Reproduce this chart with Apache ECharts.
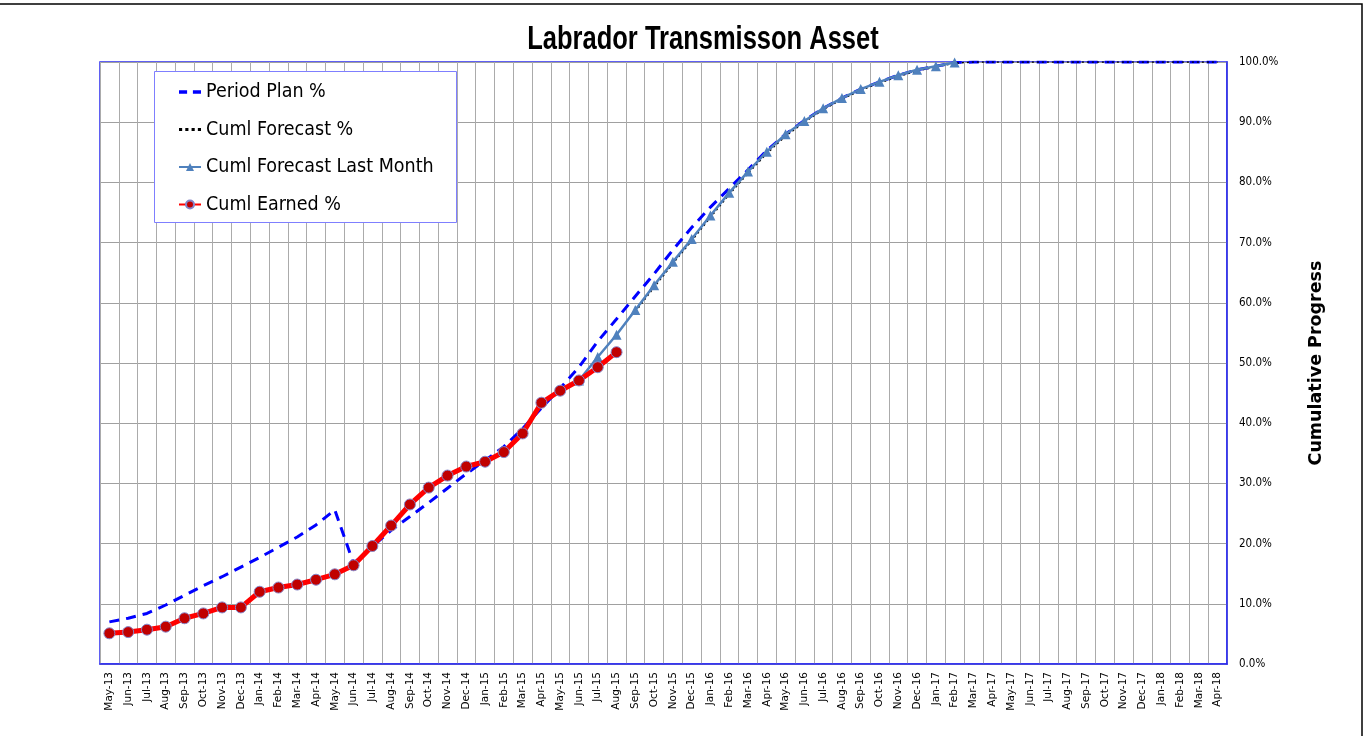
<!DOCTYPE html>
<html>
<head>
<meta charset="utf-8">
<script src="https://cdn.jsdelivr.net/npm/echarts@6/dist/echarts.min.js"></script>
<style>
html,body{margin:0;padding:0;background:#fff;}
#chart{width:1366px;height:736px;}
</style>
</head>
<body>
<div id="chart"></div>
<script>
const months = ['May-13','Jun-13','Jul-13','Aug-13','Sep-13','Oct-13','Nov-13','Dec-13',
'Jan-14','Feb-14','Mar-14','Apr-14','May-14','Jun-14','Jul-14','Aug-14','Sep-14','Oct-14','Nov-14','Dec-14',
'Jan-15','Feb-15','Mar-15','Apr-15','May-15','Jun-15','Jul-15','Aug-15','Sep-15','Oct-15','Nov-15','Dec-15',
'Jan-16','Feb-16','Mar-16','Apr-16','May-16','Jun-16','Jul-16','Aug-16','Sep-16','Oct-16','Nov-16','Dec-16',
'Jan-17','Feb-17','Mar-17','Apr-17','May-17','Jun-17','Jul-17','Aug-17','Sep-17','Oct-17','Nov-17','Dec-17',
'Jan-18','Feb-18','Mar-18','Apr-18'];

const periodPlan = [7.0,7.6,8.4,9.8,11.4,13.0,14.5,16.1,
17.7,19.4,21.1,23.1,25.6,16.7,19.5,22.2,24.5,26.8,29.2,31.6,
33.8,36.1,39.1,42.5,45.8,49.3,53.6,57.3,61.1,64.8,68.8,72.5,
75.9,79.0,82.1,85.3,88.0,90.3,92.3,94.0,95.5,96.7,97.8,98.7,
99.3,99.9,100,100,100,100,100,100,100,100,100,100,
100,100,100,100];

const cumlForecast = [null,null,null,null,null,null,null,null,
null,null,null,null,null,null,null,null,null,null,null,null,
null,null,null,null,null,null,null,null,58.5,62.6,66.5,70.3,
74.2,78.0,81.5,84.8,87.7,90.0,92.1,93.8,95.3,96.5,97.6,98.5,
99.2,99.8,100,100,100,100,100,100,100,100,100,100,
100,100,100,100];

const cumlForecastLastMonth = [null,null,null,null,null,null,null,null,
null,null,null,null,null,null,null,null,null,null,null,null,
null,null,null,null,null,47.1,51.0,54.7,58.8,62.9,66.8,70.6,
74.5,78.3,81.8,85.1,88.0,90.2,92.3,94.0,95.5,96.7,97.8,98.7,
99.3,99.9];

const cumlEarned = [5.1,5.3,5.7,6.2,7.6,8.4,9.4,9.4,
12.0,12.7,13.2,14.0,14.9,16.4,19.6,23.0,26.5,29.3,31.3,32.8,
33.6,35.2,38.3,43.4,45.4,47.1,49.3,51.8];

const chart = echarts.init(document.getElementById('chart'), null, {renderer:'canvas'});
const cond = "'DejaVu Sans Condensed', 'DejaVu Sans', sans-serif";

chart.setOption({
  animation: false,
  backgroundColor: '#fff',
  graphic: [
    {type:'rect', z: 0, silent:true, shape:{x:-5, y:4, width:1367, height:740}, style:{fill:'none', stroke:'#000', lineWidth:1.5}},
    {type:'text', z: 10, x: 703, y: 40, scaleX: 0.75, style:{text:'Labrador Transmisson Asset', font:"bold 34px 'Liberation Sans', sans-serif", fill:'#000', align:'center', verticalAlign:'middle'}},
    {type:'rect', z: 3, silent:true, shape:{x:154.5, y:71.5, width:302, height:151}, style:{fill:'#fff', stroke:'#7f7fff', lineWidth:1}}
  ],
  grid: {left:100, right:139, top:62, bottom:72, show:true, borderColor:'#2b2bf0', borderWidth:1.5, backgroundColor:'#fff'},
  legend: {
    orient:'vertical', left:173, top:76, z: 4, padding:5,
    itemWidth: 22, itemHeight: 10, itemGap: 15.5,
    textStyle:{fontFamily: cond, fontSize:19.5, color:'#000', lineHeight:22},
    data:[
      {name:'Period Plan %', icon:'path://M0,0h7v3h-7z M12,0h7v3h-7z'},
      {name:'Cuml Forecast %', icon:'path://M0,0h2v2h-2z M4,0h2v2h-2z M8,0h2v2h-2z M12,0h2v2h-2z'},
      'Cuml Forecast Last Month',
      'Cuml Earned %'
    ]
  },
  xAxis: {
    type:'category', data: months, boundaryGap:true,
    axisLine:{show:true, lineStyle:{color:'#2b2bf0', width:1.5}},
    axisTick:{show:false},
    axisLabel:{interval:0, rotate:90, margin:8, fontFamily:"'DejaVu Sans', sans-serif", fontSize:10.5, color:'#000'},
    splitLine:{show:true, interval:0, lineStyle:{color:'#ababab', width:1}}
  },
  yAxis: {
    type:'value', position:'right', min:0, max:100, interval:10,
    name:'Cumulative Progress', nameLocation:'middle', nameRotate:90, nameGap:80,
    nameTextStyle:{fontFamily:"'DejaVu Sans', sans-serif", fontWeight:'bold', fontSize:17.5, color:'#000'},
    axisLine:{show:true, lineStyle:{color:'#2b2bf0', width:1.5}},
    axisTick:{show:false},
    axisLabel:{margin:12, fontFamily: cond, fontSize:11.5, color:'#000', formatter: v => v.toFixed(1) + '%'},
    splitLine:{show:true, lineStyle:{color:'#a0a0a0', width:1}}
  },
  series: [
    {name:'Period Plan %', type:'line', data: periodPlan, symbol:'none', z:2,
     lineStyle:{color:'#0000ff', width:3, type:[10,7]}, itemStyle:{color:'#0000ff'}},
    {name:'Cuml Forecast %', type:'line', data: cumlForecast, symbol:'none', z:3,
     lineStyle:{color:'#000', width:1.5, type:[2,3]}, itemStyle:{color:'#000'}},
    {name:'Cuml Forecast Last Month', type:'line', data: cumlForecastLastMonth, symbol:'triangle', symbolSize:10, z:4,
     lineStyle:{color:'#4f81bd', width:2.5}, itemStyle:{color:'#4f81bd'}},
    {name:'Cuml Earned %', type:'line', data: cumlEarned, symbol:'circle', symbolSize:11, z:5,
     lineStyle:{color:'#ff0000', width:5}, itemStyle:{color:'#c00000', borderColor:'#8585c8', borderWidth:1}}
  ]
});
</script>
</body>
</html>
